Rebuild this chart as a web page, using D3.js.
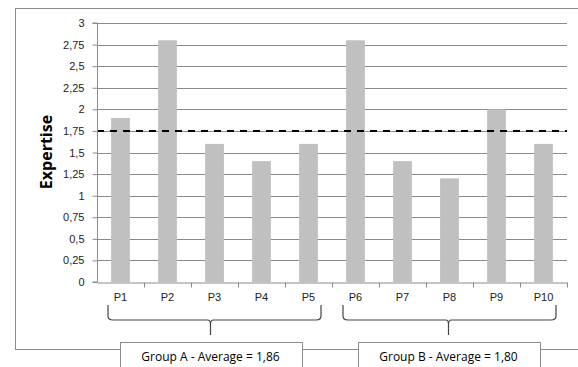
<!DOCTYPE html>
<html>
<head>
<meta charset="utf-8">
<script src="https://cdn.jsdelivr.net/npm/d3@7/dist/d3.min.js"></script>
<style>
  body { margin: 0; background: #fff; }
  svg { display: block; font-family: "Open Sans", "Liberation Sans", sans-serif; }
</style>
</head>
<body>
<svg id="chart" width="578" height="367"></svg>
<script>
// chart data
const participants = ['P1', 'P2', 'P3', 'P4', 'P5', 'P6', 'P7', 'P8', 'P9', 'P10'];
const expertise = [1.9, 2.8, 1.6, 1.4, 1.6, 2.8, 1.4, 1.2, 2.0, 1.6];
const yTicks = [0, 0.25, 0.5, 0.75, 1, 1.25, 1.5, 1.75, 2, 2.25, 2.5, 2.75, 3];
const threshold = 1.75;
const groups = ['Group A - Average = 1,86', 'Group B - Average = 1,80'];
const groupMembers = [['P1', 'P5'], ['P6', 'P10']];

const svg = d3.select('#chart');
const margin = { left: 97, right: 11, top: 23, bottom: 85 };
const W = 578, H = 367;

const x = d3.scaleBand().domain(participants)
  .range([margin.left, W - margin.right]).paddingInner(0).paddingOuter(0);
const y = d3.scaleLinear().domain([0, 3]).range([282, margin.top]);

// outer chart border
svg.append('rect')
  .attr('x', 15.5).attr('y', 8.5)
  .attr('width', 600).attr('height', 341)
  .attr('fill', 'none').attr('stroke', '#8c8c8c').attr('stroke-width', 1);

// gridlines
svg.append('g').selectAll('line').data(yTicks.slice(1)).join('line')
  .attr('x1', margin.left).attr('x2', W - margin.right)
  .attr('y1', d => Math.round(y(d)) + 0.5).attr('y2', d => Math.round(y(d)) + 0.5)
  .attr('stroke', '#8a8a8a').attr('stroke-width', 1);

// bars
svg.append('g').selectAll('rect').data(participants).join('rect')
  .attr('x', d => x(d) + x.bandwidth() * 0.3)
  .attr('width', x.bandwidth() * 0.4)
  .attr('y', (d, i) => y(expertise[i]))
  .attr('height', (d, i) => y(0) - y(expertise[i]))
  .attr('fill', '#c0c0c0');

// threshold line
svg.append('line')
  .attr('x1', margin.left).attr('x2', W - margin.right)
  .attr('y1', y(threshold)).attr('y2', y(threshold))
  .attr('stroke', '#000').attr('stroke-width', 2)
  .attr('stroke-dasharray', '7,6');

// y axis
const yAxis = svg.append('g')
  .attr('transform', `translate(${margin.left + 0.5},0)`)
  .call(d3.axisLeft(y).tickValues(yTicks).tickSize(5).tickPadding(8)
    .tickFormat(d => String(d).replace('.', ',')));
yAxis.select('.domain').attr('stroke', '#8a8a8a').attr('d', `M-5,${y(3)}H0V${y(0)}H-5`);
yAxis.selectAll('.tick line').attr('stroke', '#8a8a8a');
yAxis.selectAll('.tick text').attr('font-size', 11).attr('fill', '#222');

// x axis
const xAxis = svg.append('g')
  .attr('transform', `translate(0,${Math.round(y(0)) + 0.5})`)
  .call(d3.axisBottom(x).tickSize(0).tickPadding(11));
xAxis.select('.domain').attr('stroke', '#8a8a8a');
xAxis.selectAll('.tick text').attr('font-size', 11).attr('fill', '#222');
// tick marks on band boundaries
xAxis.append('g').selectAll('line').data(participants).join('line')
  .attr('x1', d => Math.round(x(d) + x.bandwidth()) + 0.5)
  .attr('x2', d => Math.round(x(d) + x.bandwidth()) + 0.5)
  .attr('y1', 0).attr('y2', 5)
  .attr('stroke', '#8a8a8a');

// axis title
svg.append('text')
  .attr('transform', `translate(52,152) rotate(-90)`)
  .attr('text-anchor', 'middle')
  .attr('font-size', 16).attr('font-weight', 'bold')
  .attr('fill', '#000')
  .text('Expertise');

// group braces (tip sits a little left of centre, like the original)
function bracePath(x0, x1, c, top, mid, tip) {
  return `M${x0},${top} V${mid - 4} Q${x0},${mid} ${x0 + 5},${mid}` +
    ` H${c - 3} Q${c},${mid} ${c},${mid + 4} V${tip}` +
    ` M${c},${mid + 4} Q${c},${mid} ${c + 3},${mid} H${x1 - 5} Q${x1},${mid} ${x1},${mid - 4} V${top}`;
}
const braceTop = 305, braceMid = 320, braceTip = 335;
const tipShift = [-4, -1];
const boxW = 182, boxTop = 342.5;
groupMembers.forEach(([a, b], i) => {
  const x0 = x(a) + 11, x1 = x(b) + x.bandwidth() - 11;
  const c = (x0 + x1) / 2 + tipShift[i];
  svg.append('path')
    .attr('d', bracePath(x0, x1, c, braceTop, braceMid, braceTip))
    .attr('fill', 'none').attr('stroke', '#444').attr('stroke-width', 1.2);

  const bx = Math.round(c - boxW / 2) + 0.5;
  svg.append('rect')
    .attr('x', bx).attr('y', boxTop)
    .attr('width', boxW).attr('height', 40)
    .attr('fill', '#fff').attr('stroke', '#8c8c8c');
  svg.append('text')
    .attr('x', c).attr('y', 361)
    .attr('text-anchor', 'middle')
    .attr('font-size', 12).attr('fill', '#000')
    .text(groups[i]);
});
</script>
</body>
</html>
